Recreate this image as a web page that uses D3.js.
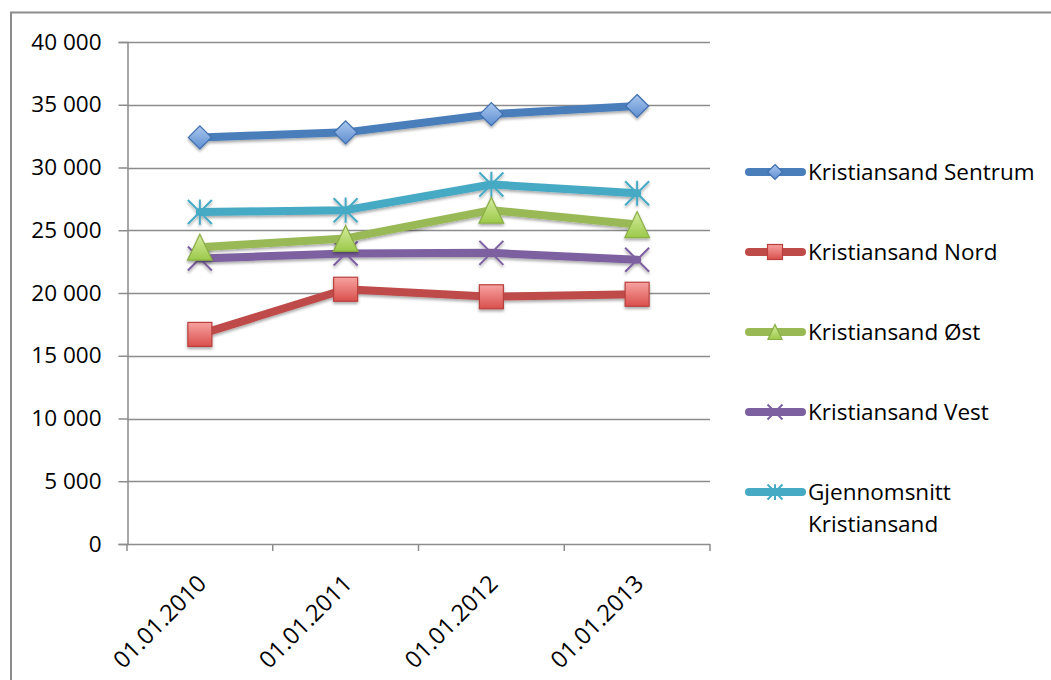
<!DOCTYPE html>
<html>
<head>
<meta charset="utf-8">
<script src="https://cdn.jsdelivr.net/npm/d3@7"></script>
<style>
  html, body { margin: 0; padding: 0; background: #fff; }
  svg { display: block; }
  text { font-family: "Open Sans", Lato, sans-serif; fill: #000; }
</style>
</head>
<body>
<svg id="chart" width="1051" height="680"></svg>
<script>
// Categories (dates) and per-district values
const categories = ["01.01.2010", "01.01.2011", "01.01.2012", "01.01.2013"];
const sentrum = [32400, 32800, 34250, 34900];
const nord    = [16700, 20300, 19700, 19900];
const ost     = [23650, 24350, 26600, 25450];
const vest    = [22750, 23150, 23200, 22650];
const snitt   = [26450, 26600, 28650, 27950];
const yTicks  = [0, 5000, 10000, 15000, 20000, 25000, 30000, 35000, 40000];

const series = [
  { name: ["Kristiansand Sentrum"], values: sentrum, marker: "diamond",  line: "#4a7ebb", fillA: "#a9c6ee", fillB: "#5f8fd1", stroke: "#3e6eaf" },
  { name: ["Kristiansand Nord"],    values: nord,    marker: "square",   line: "#be4b48", fillA: "#f7a3a1", fillB: "#d94f4c", stroke: "#b9403d" },
  { name: ["Kristiansand Øst"],     values: ost,     marker: "triangle", line: "#98b954", fillA: "#d5eca0", fillB: "#9cc94a", stroke: "#8aae45" },
  { name: ["Kristiansand Vest"],    values: vest,    marker: "x",        line: "#7d60a0", stroke: "#7d60a0" },
  { name: ["Gjennomsnitt", "Kristiansand"], values: snitt, marker: "star", line: "#46aac5", stroke: "#46aac5" }
];

const svg = d3.select("#chart");
const defs = svg.append("defs");

// Soft drop shadow used under lines and markers
const shadow = defs.append("filter").attr("id", "shadow")
  .attr("x", "-30%").attr("y", "-30%").attr("width", "160%").attr("height", "180%");
shadow.append("feGaussianBlur").attr("in", "SourceAlpha").attr("stdDeviation", 1.6).attr("result", "b");
shadow.append("feOffset").attr("in", "b").attr("dy", 2).attr("result", "o");
shadow.append("feComponentTransfer").attr("in", "o").attr("result", "s")
  .append("feFuncA").attr("type", "linear").attr("slope", 0.35);
const merge = shadow.append("feMerge");
merge.append("feMergeNode").attr("in", "s");
merge.append("feMergeNode").attr("in", "SourceGraphic");

series.forEach((s, i) => {
  if (!s.fillA) return;
  const g = defs.append("linearGradient").attr("id", "grad" + i)
    .attr("x1", 0).attr("y1", 0).attr("x2", 0).attr("y2", 1);
  g.append("stop").attr("offset", "0%").attr("stop-color", s.fillA);
  g.append("stop").attr("offset", "100%").attr("stop-color", s.fillB);
});

// Outer frame
svg.append("rect").attr("x", 11).attr("y", 12.5).attr("width", 1060).attr("height", 700)
  .attr("fill", "none").attr("stroke", "#8c8c8c").attr("stroke-width", 2);

const plot = { left: 127, right: 710, top: 42, bottom: 544 };

const x = d3.scaleBand().domain(categories).range([plot.left, plot.right]);
const y = d3.scaleLinear().domain([0, 40000]).range([plot.bottom, plot.top]);

const fmt = v => d3.format(",")(v).replace(/,/g, " ");

// Horizontal gridlines
svg.append("g").selectAll("line").data(yTicks.filter(t => t > 0)).join("line")
  .attr("x1", plot.left).attr("x2", plot.right)
  .attr("y1", d => Math.round(y(d)) + 0.5).attr("y2", d => Math.round(y(d)) + 0.5)
  .attr("stroke", "#8c8c8c").attr("stroke-width", 1.5);

// Y axis
const yAxis = svg.append("g").attr("transform", `translate(${plot.left + 0.5},0)`)
  .call(d3.axisLeft(y).tickValues(yTicks).tickFormat(fmt).tickSize(9).tickPadding(17));
yAxis.select(".domain").attr("stroke", "#8c8c8c").attr("stroke-width", 1.5);
yAxis.selectAll(".tick line").attr("stroke", "#8c8c8c").attr("stroke-width", 1.5);
yAxis.selectAll(".tick text").attr("font-size", 22.5).attr("font-family", "'Open Sans', sans-serif").attr("fill", "#000");

// X axis: ticks on band boundaries
const xAxisG = svg.append("g");
xAxisG.append("line").attr("x1", plot.left).attr("x2", plot.right)
  .attr("y1", plot.bottom + 0.5).attr("y2", plot.bottom + 0.5)
  .attr("stroke", "#8c8c8c").attr("stroke-width", 1.5);
const bounds = categories.map(c => x(c)).concat([x(categories[categories.length - 1]) + x.bandwidth()]);
xAxisG.selectAll("line.tk").data(bounds).join("line").attr("class", "tk")
  .attr("x1", d => d).attr("x2", d => d)
  .attr("y1", plot.bottom).attr("y2", plot.bottom + 7)
  .attr("stroke", "#8c8c8c").attr("stroke-width", 1.5);
xAxisG.selectAll("text").data(categories).join("text")
  .attr("transform", d => `translate(${x(d) + x.bandwidth() / 2 + 8},${plot.bottom + 41}) rotate(-45)`)
  .attr("text-anchor", "end")
  .attr("font-size", 23.5)
  .text(d => d);

const cx = c => x(c) + x.bandwidth() / 2;

// Marker shapes
function drawMarker(g, s, i, px, py, size) {
  const h = size / 2;
  if (s.marker === "diamond") {
    g.append("path").attr("d", `M${px},${py - h}L${px + h},${py}L${px},${py + h}L${px - h},${py}Z`)
      .attr("fill", `url(#grad${i})`).attr("stroke", s.stroke).attr("stroke-width", 1.2);
  } else if (s.marker === "square") {
    g.append("rect").attr("x", px - h).attr("y", py - h).attr("width", size).attr("height", size)
      .attr("fill", `url(#grad${i})`).attr("stroke", s.stroke).attr("stroke-width", 1.2);
  } else if (s.marker === "triangle") {
    g.append("path").attr("d", `M${px},${py - h}L${px + h * 0.95},${py + h}L${px - h * 0.95},${py + h}Z`)
      .attr("fill", `url(#grad${i})`).attr("stroke", s.stroke).attr("stroke-width", 1.2);
  } else if (s.marker === "x") {
    g.append("path").attr("d", `M${px - h},${py - h}L${px + h},${py + h}M${px - h},${py + h}L${px + h},${py - h}`)
      .attr("stroke", s.stroke).attr("stroke-width", 2);
  } else if (s.marker === "star") {
    g.append("path").attr("d", `M${px - h},${py - h}L${px + h},${py + h}M${px - h},${py + h}L${px + h},${py - h}M${px},${py - h * 1.05}L${px},${py + h * 1.05}`)
      .attr("stroke", s.stroke).attr("stroke-width", 2);
  }
}

// Draw series in reverse so the first series sits on top
const line = d3.line().x((d, j) => cx(categories[j])).y(d => y(d));
const order = [4, 3, 2, 1, 0];
order.forEach(i => {
  const s = series[i];
  const g = svg.append("g").attr("filter", "url(#shadow)");
  g.append("path").datum(s.values).attr("d", line)
    .attr("fill", "none").attr("stroke", s.line).attr("stroke-width", 8)
    .attr("stroke-linejoin", "round").attr("stroke-linecap", "round");
  const sizes = { diamond: 23, square: 24, triangle: 26, x: 24, star: 24 };
  s.values.forEach((v, j) => drawMarker(g, s, i, cx(categories[j]), y(v), sizes[s.marker]));
});

// Legend
const legend = svg.append("g");
series.forEach((s, i) => {
  const ly = 172 + i * 80;
  const g = legend.append("g");
  g.append("line").attr("x1", 749).attr("x2", 802).attr("y1", ly).attr("y2", ly)
    .attr("stroke", s.line).attr("stroke-width", 8).attr("stroke-linecap", "round");
  drawMarker(g, s, i, 775, ly, 15);
  s.name.forEach((t, k) => {
    g.append("text").attr("x", 808).attr("y", ly + 8 + k * 32).attr("font-size", 22.5).text(t);
  });
});
</script>
</body>
</html>
